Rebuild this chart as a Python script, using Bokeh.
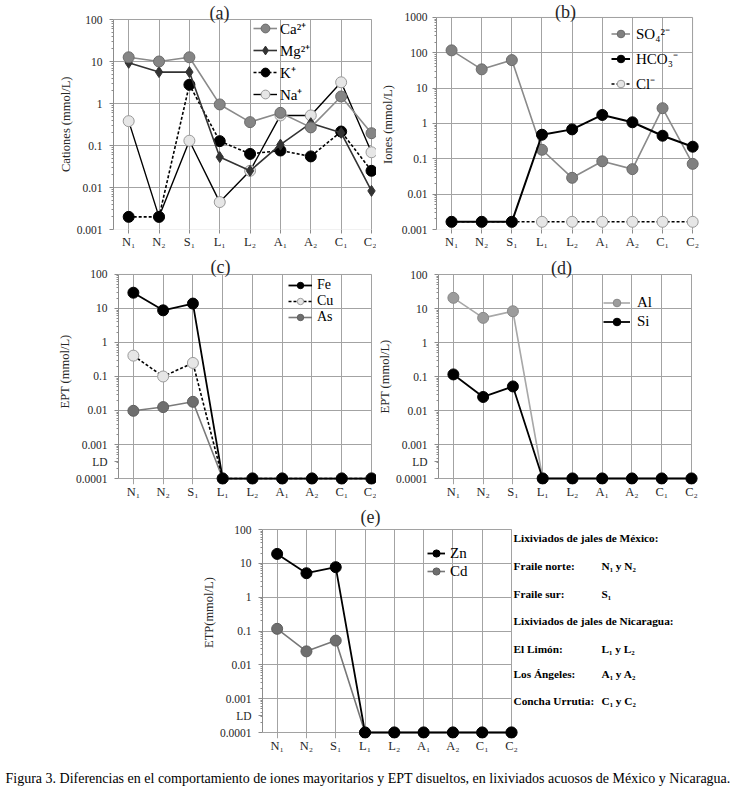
import math
from bokeh.plotting import figure
from bokeh.models import (Range1d, FixedTicker, Legend, LegendItem, Label,
                          BoxAnnotation, ColumnDataSource, Title)
from bokeh.layouts import column, row
from bokeh.embed import file_html
from bokeh.resources import INLINE

FONT = "Liberation Serif"
GRID = "#a3a3a3"
AXIS = "#8c8c8c"
TXT = "#262626"

# ---------------- data ----------------
sites = ["N\u2081", "N\u2082", "S\u2081", "L\u2081", "L\u2082", "A\u2081", "A\u2082", "C\u2081", "C\u2082"]

# (a) cations, mmol/L
ca = [12.6, 10.0, 12.6, 0.95, 0.36, 0.60, 0.27, 1.47, 0.196]
mg = [9.3, 5.6, 5.6, 0.053, 0.025, 0.105, 0.34, 0.20, 0.0083]
k_ = [0.002, 0.002, 2.8, 0.127, 0.063, 0.076, 0.055, 0.215, 0.025]
na = [0.38, 0.002, 0.13, 0.0045, 0.025, 0.52, 0.52, 3.2, 0.069]

# (b) anions, mmol/L
so4 = [117, 34, 62, 0.18, 0.029, 0.085, 0.051, 2.7, 0.072]
hco3 = [0.00165, 0.00165, 0.00165, 0.48, 0.68, 1.74, 1.08, 0.45, 0.22]
cl = [0.00165, 0.00165, 0.00165, 0.00165, 0.00165, 0.00165, 0.00165, 0.00165, 0.00165]

# (c) EPT, mmol/L (values below LD drawn at 0.0001)
fe = [29, 8.8, 13.9, 0.0001, 0.0001, 0.0001, 0.0001, 0.0001, 0.0001]
cu = [0.41, 0.10, 0.25, 0.0001, 0.0001, 0.0001, 0.0001, 0.0001, 0.0001]
as_ = [0.0098, 0.0126, 0.018, 0.0001, 0.0001, 0.0001, 0.0001, 0.0001, 0.0001]

# (d)
al = [20.6, 5.3, 8.3, 0.0001, 0.0001, 0.0001, 0.0001, 0.0001, 0.0001]
si = [0.115, 0.025, 0.051, 0.0001, 0.0001, 0.0001, 0.0001, 0.0001, 0.0001]

# (e)
zn = [19, 5.1, 7.7, 0.0001, 0.0001, 0.0001, 0.0001, 0.0001, 0.0001]
cd = [0.116, 0.025, 0.052, 0.0001, 0.0001, 0.0001, 0.0001, 0.0001, 0.0001]

ticks_a = [0.001, 0.01, 0.1, 1, 10, 100]
tlab_a = ["0.001", "0.01", "0.1", "1", "10", "100"]
ticks_b = [0.001, 0.01, 0.1, 1, 10, 100, 1000]
tlab_b = ["0.001", "0.01", "0.1", "1", "10", "100", "1000"]
ticks_c = [0.0001, 0.001, 0.01, 0.1, 1, 10, 100]
tlab_c = ["0.0001", "0.001", "0.01", "0.1", "1", "10", "100"]

key_rows = [
    ("Lixiviados de jales de M\u00e9xico:", ""),
    ("Fraile norte:", "N\u2081 y  N\u2082"),
    ("Fraile sur:", "S\u2081"),
    ("Lixiviados  de jales de Nicaragua:", ""),
    ("El Lim\u00f3n:", " L\u2081 y L\u2082"),
    ("Los \u00c1ngeles:", "A\u2081 y A\u2082"),
    ("Concha Urrutia:", "C\u2081 y C\u2082"),
]
caption = ("Figura 3. Diferencias en el comportamiento de iones mayoritarios y EPT  disueltos, "
           "en lixiviados acuosos de M\u00e9xico y Nicaragua.")

# ---------------- layout geometry (pixel positions of each plot box) ----------------
# yl: centre of the y-axis title, ylen: its approximate length in px
G = {
    "a": dict(fx=0, fy=0, w=376, h=258, L=113, R=371, T=19, B=229, pb=0, yl=124, ylen=95),
    "b": dict(fx=376, fy=0, w=361, h=258, L=428, R=691, T=17, B=230, pb=0, yl=125, ylen=79),
    "c": dict(fx=0, fy=258, w=376, h=247, L=118, R=371, T=274, B=479, pb=6, yl=372, ylen=74),
    "d": dict(fx=376, fy=258, w=361, h=247, L=438, R=691, T=274, B=478, pb=6, yl=376, ylen=74),
    "e": dict(fx=0, fy=505, w=737, h=258, L=262, R=511, T=529, B=732, pb=6, yl=612, ylen=71),
}


def fxy(g, X, Y):
    return X - g["L"], g["B"] + g["pb"] - Y


def put_text(p, g, X, Y, text, size, bold=False, align="center", color=TXT):
    x, y = fxy(g, X, Y)
    p.add_layout(Label(x=x, y=y, x_units="screen", y_units="screen", text=text,
                       text_font=FONT, text_font_size=f"{size}px",
                       text_font_style="bold" if bold else "normal",
                       text_align=align, text_baseline="middle", text_color=color))


def make_panel(g, ylabel, yticks, ylabels, lab_so, ylab_so=0, ld=False):
    n = len(sites)
    fw = g["R"] - g["L"]
    fh = g["B"] - g["T"]
    lo = math.log10(yticks[0])
    hi = math.log10(yticks[-1])
    dec_px = fh / (hi - lo)
    unit_px = fw / (n - 0.5)
    bl = g["L"] - g["fx"]
    pad_r = g["fx"] + g["w"] - g["R"]
    pad_t = g["T"] - g["fy"]
    bb = g["fy"] + g["h"] - g["B"] - g["pb"]
    x_end = (n - 1) + pad_r / unit_px
    y_start = 10 ** (lo - g["pb"] / dec_px)
    y_end = 10 ** (hi + pad_t / dec_px)
    p = figure(width=g["w"], height=g["h"], x_range=Range1d(-0.5, x_end),
               y_range=Range1d(y_start, y_end), y_axis_type="log",
               output_backend="svg", toolbar_location=None,
               min_border_left=bl, min_border_right=0, min_border_top=0,
               min_border_bottom=bb, outline_line_color=None)
    # x axis
    xa = p.xaxis[0]
    xa.ticker = FixedTicker(ticks=list(range(n)))
    xa.major_label_overrides = {i: s for i, s in enumerate(sites)}
    xa.bounds = (-0.5, n - 1)
    xa.axis_line_color = None
    xa.major_tick_in = 0
    xa.major_tick_out = 4 if g["pb"] == 0 else 0
    xa.major_tick_line_color = AXIS
    xa.minor_tick_line_color = None
    xa.major_label_standoff = 1 if g["pb"] == 0 else 0
    xa.major_label_text_font = FONT
    xa.major_label_text_font_size = "12.5px"
    xa.major_label_text_color = TXT
    # y axis
    minor = [m * 10 ** e for e in range(int(round(lo)), int(round(hi))) for m in range(2, 10)]
    ld_val = 10 ** (lo + 0.5)
    ya = p.yaxis[0]
    if ld:
        ya.ticker = FixedTicker(ticks=yticks + [ld_val], minor_ticks=minor)
        ya.major_label_overrides = dict(zip(yticks + [ld_val], ylabels + ["LD"]))
    else:
        ya.ticker = FixedTicker(ticks=yticks, minor_ticks=minor)
        ya.major_label_overrides = dict(zip(yticks, ylabels))
    ya.bounds = (yticks[0], yticks[-1])
    ya.axis_line_color = AXIS
    ya.major_tick_line_color = AXIS
    ya.minor_tick_line_color = AXIS
    ya.major_tick_out = 4
    ya.major_tick_in = 0
    ya.minor_tick_out = 2
    ya.minor_tick_in = 0
    ya.major_label_standoff = lab_so
    ya.major_label_text_font = FONT
    ya.major_label_text_font_size = "11.5px"
    ya.major_label_text_color = TXT
    # y-axis title as a side title, placed along the plot box
    p.add_layout(Title(text=ylabel, align="left", vertical_align="middle",
                       offset=(g["B"] + g["pb"]) - (g["yl"] + g["ylen"] / 2),
                       standoff=ylab_so, text_font=FONT, text_font_size="12.5px",
                       text_font_style="normal", text_color=TXT), "left")
    # grids limited to the plot box
    xb = (-0.5, n - 1)
    yb = (y_start if g["pb"] else yticks[0], yticks[-1])
    xgr, ygr = p.xgrid[0], p.ygrid[0]
    ygr.ticker = FixedTicker(ticks=yticks)
    ok = True
    try:
        xgr.cross_bounds = yb
        ygr.cross_bounds = xb
    except Exception:
        ok = False
    if ok:
        for gr in (xgr, ygr):
            gr.grid_line_color = GRID
            gr.grid_line_width = 1
    else:
        xgr.visible = False
        ygr.visible = False
        xs_v = [[t, t] for t in range(n)]
        p.multi_line(xs=xs_v, ys=[list(yb) for _ in xs_v], line_color=GRID,
                     line_width=1, level="underlay")
        ys_h = [[t, t] for t in yticks]
        p.multi_line(xs=[list(xb) for _ in ys_h], ys=ys_h, line_color=GRID,
                     line_width=1, level="underlay")
    p.add_layout(BoxAnnotation(left=-0.5, right=n - 1, bottom=yticks[0], top=yticks[-1],
                               fill_color=None, fill_alpha=0, line_color=GRID,
                               line_width=1, level="underlay"))
    return p


def series(p, y, line_color, fill, outline, marker="circle", size=11, dash="solid", lw=1.6):
    src = ColumnDataSource(dict(x=list(range(len(sites))), y=y))
    l = p.line("x", "y", source=src, line_color=line_color, line_width=lw, line_dash=dash)
    s = p.scatter("x", "y", source=src, marker=marker, size=size, fill_color=fill,
                  line_color=outline, line_width=1)
    return [l, s]


def add_legend(p, g, items, X, Ytop, pitch, gw, so, fs):
    nrows = len(items)
    x, y = fxy(g, X, Ytop + pitch * nrows)
    leg = Legend(items=[LegendItem(label=t, renderers=r) for t, r in items],
                 location=(x, y), orientation="vertical", glyph_width=gw,
                 glyph_height=pitch, label_height=pitch, spacing=0, padding=0,
                 margin=0, label_standoff=so, label_text_font=FONT,
                 label_text_font_size=f"{fs}px", label_text_color="black",
                 background_fill_alpha=0, border_line_alpha=0)
    p.add_layout(leg)


LIGHT = "#e6e6e6"
LIGHT_OUT = "#9a9a9a"

# ---- (a)
g = G["a"]
pa = make_panel(g, "Cationes (mmol/L)", ticks_a, tlab_a, 7)
r_na = series(pa, na, "black", LIGHT, LIGHT_OUT, lw=1.4)
r_k = series(pa, k_, "black", "black", "black", dash="3 2")
r_mg = series(pa, mg, "#333333", "#333333", "#333333", marker="diamond", size=11)
r_ca = series(pa, ca, "#8a8a8a", "#858585", "#6b6b6b")
add_legend(pa, g, [("Ca\u00b2\u207a", r_ca), ("Mg\u00b2\u207a", r_mg), ("K\u207a", r_k),
                   ("Na\u207a", r_na)], 253, 17, 22, 24, 3, 15)
put_text(pa, g, 219, 12, "(a)", 18)

# ---- (b)
g = G["b"]
pb = make_panel(g, "Iones (mmol/L)", ticks_b, tlab_b, 5, ylab_so=6)
r_cl = series(pb, cl, "black", LIGHT, LIGHT_OUT, dash="3 2")
r_so4 = series(pb, so4, "#8a8a8a", "#808080", "#6b6b6b")
r_hco3 = series(pb, hco3, "black", "black", "black", lw=2)
add_legend(pb, g, [("SO\u2084\u00b2\u207b", r_so4), ("HCO\u2083\u207b", r_hco3),
                   ("Cl\u207b", r_cl)], 603, 21.5, 25, 19, 6, 15)
put_text(pb, g, 557, 12, "(b)", 18)

# ---- (c)
g = G["c"]
pc = make_panel(g, "EPT (mmol/L)", ticks_c, tlab_c, 7, ld=True)
r_as = series(pc, as_, "#7a7a7a", "#6e6e6e", "#5e5e5e")
r_cu = series(pc, cu, "black", LIGHT, LIGHT_OUT, dash="3 2")
r_fe = series(pc, fe, "black", "black", "black", lw=1.8)
add_legend(pc, g, [("Fe", r_fe), ("Cu", r_cu), ("As", r_as)], 288, 278, 16, 24, 5, 14)
put_text(pc, g, 220, 267, "(c)", 18)

# ---- (d)
g = G["d"]
pd_ = make_panel(g, "EPT (mmol/L)", ticks_c, tlab_c, 7, ld=True)
r_al = series(pd_, al, "#a8a8a8", "#9c9c9c", "#888888")
r_si = series(pd_, si, "black", "black", "black", lw=1.8)
add_legend(pd_, g, [("Al", r_al), ("Si", r_si)], 603, 293, 19, 27, 7, 15)
put_text(pd_, g, 561, 267, "(d)", 18)

# ---- (e)
g = G["e"]
pe = make_panel(g, "ETP(mmol/L)", ticks_c, tlab_c, 7, ld=True)
r_cd = series(pe, cd, "#777777", "#6e6e6e", "#5e5e5e")
r_zn = series(pe, zn, "black", "black", "black", lw=1.8)
add_legend(pe, g, [("Zn", r_zn), ("Cd", r_cd)], 427, 544, 18, 18, 5, 15)
put_text(pe, g, 370, 516, "(e)", 18)

row_y = [537, 565, 593, 620, 648, 673, 700]
for (lbl, val), yy in zip(key_rows, row_y):
    put_text(pe, g, 513, yy, lbl, 11.3, bold=True, align="left", color="black")
    if val:
        put_text(pe, g, 601, yy, val, 11.3, bold=True, align="left", color="black")

# ---- caption strip
pcap = figure(width=737, height=26, x_range=Range1d(0, 737), y_range=Range1d(0, 26),
              output_backend="svg", toolbar_location=None, min_border=0,
              x_axis_location=None, y_axis_location=None, outline_line_color=None)
pcap.grid.visible = False
pcap.add_layout(Label(x=5, y=11, x_units="screen", y_units="screen", text=caption,
                      text_font=FONT, text_font_size="14px", text_align="left",
                      text_baseline="middle", text_color="black"))

layout = column(row(pa, pb), row(pc, pd_), row(pe), row(pcap))
open("out.html", "w").write(file_html(layout, INLINE))
